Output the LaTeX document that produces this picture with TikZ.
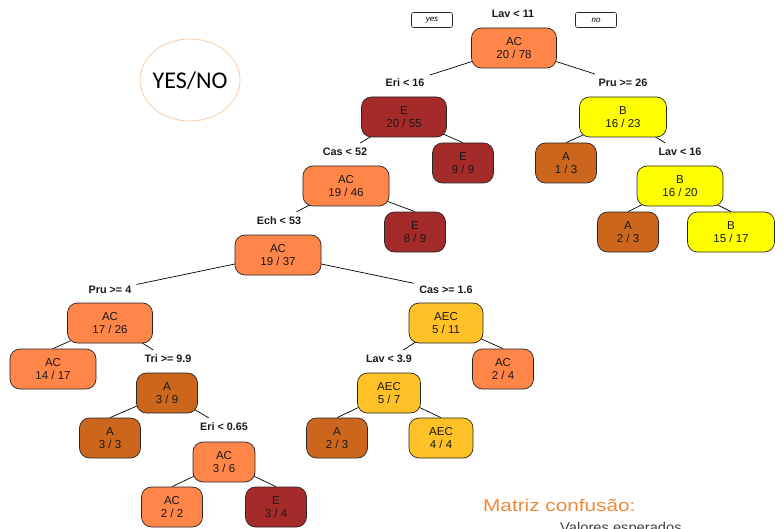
\documentclass[tikz,border=0pt]{standalone}
\usepackage{fontspec}
\usepackage{graphicx}
\setmainfont{Liberation Sans}
\newfontfamily\yesnofont{Carlito}
\usetikzlibrary{backgrounds}
\definecolor{cAC}{HTML}{FF8548}
\definecolor{cE}{HTML}{A52A2A}
\definecolor{cA}{HTML}{CD661D}
\definecolor{cB}{HTML}{FFFF00}
\definecolor{cAEC}{HTML}{FFC125}
\definecolor{peach}{HTML}{F8CBAD}
\definecolor{mtx}{HTML}{F0883A}
\begin{document}
\begin{tikzpicture}[x=1pt,y=-1pt,
  nd/.style={draw=black!85, line width=0.7pt, rounded corners=10pt, minimum height=40pt,
    inner sep=0pt, align=center, text=black!90, font=\fontsize{11.5}{12.5}\selectfont},
  wd/.style={minimum width=#1},
  lab/.style={inner sep=5pt, font=\bfseries\fontsize{10.8}{12}\selectfont, text=black!90},
  yn/.style={draw=black!85, line width=0.6pt, rounded corners=2pt, minimum width=41pt,
    minimum height=15pt, inner sep=0pt, font=\itshape\fontsize{8}{9}\selectfont},
  br/.style={line width=0.7pt, black}]
\useasboundingbox (0,0) rectangle (783,529);

% yes / no
\node[yn] (yes) at (432,20) {yes};
\node[yn] (no) at (596,20) {no};

% YES/NO ellipse
\draw[peach, line width=0.8pt] (190,80) ellipse [x radius=50, y radius=41];
\node[font=\yesnofont\fontsize{24}{28}\selectfont] (yesno) at (190,81) {YES/NO};

% split labels
\node[lab] (l0) at (513,14) {Lav < 11};
\node[lab] (l1) at (405,83) {Eri < 16};
\node[lab] (l2) at (623,83) {Pru >= 26};
\node[lab] (l3) at (680,152) {Lav < 16};
\node[lab] (l4) at (345,152) {Cas < 52};
\node[lab] (l5) at (279,221) {Ech < 53};
\node[lab] (l6) at (110,290) {Pru >= 4};
\node[lab] (l7) at (168,359) {Tri >= 9.9};
\node[lab] (l8) at (446,290) {Cas >= 1.6};
\node[lab] (l9) at (389,359) {Lav < 3.9};
\node[lab] (l10) at (224,427) {Eri < 0.65};

% nodes
\node[nd, wd=85, fill=cAC] (n0) at (514,48) {AC\\20 / 78};
\node[nd, wd=85, fill=cE] (n1) at (404,117) {E\\20 / 55};
\node[nd, wd=61, fill=cE] (n2) at (463,163) {E\\9 / 9};
\node[nd, wd=87, fill=cB] (n3) at (623,117) {B\\16 / 23};
\node[nd, wd=61, fill=cA] (n4) at (566,163) {A\\1 / 3};
\node[nd, wd=86, fill=cB] (n5) at (680,186) {B\\16 / 20};
\node[nd, wd=61, fill=cA] (n6) at (628,232) {A\\2 / 3};
\node[nd, wd=87, fill=cB] (n7) at (731,232) {B\\15 / 17};
\node[nd, wd=86, fill=cAC] (n8) at (346,186) {AC\\19 / 46};
\node[nd, wd=61, fill=cE] (n9) at (415,232) {E\\8 / 9};
\node[nd, wd=86, fill=cAC] (n10) at (278,255) {AC\\19 / 37};
\node[nd, wd=85, fill=cAC] (n11) at (110,323) {AC\\17 / 26};
\node[nd, wd=86, fill=cAC] (n12) at (53,369) {AC\\14 / 17};
\node[nd, wd=61, fill=cA] (n13) at (167,393) {A\\3 / 9};
\node[nd, wd=61, fill=cA] (n14) at (110,438) {A\\3 / 3};
\node[nd, wd=62, fill=cAC] (n15) at (224,462) {AC\\3 / 6};
\node[nd, wd=61, fill=cAC] (n16) at (172,507) {AC\\2 / 2};
\node[nd, wd=61, fill=cE] (n17) at (276,507) {E\\3 / 4};
\node[nd, wd=74, fill=cAEC] (n18) at (446,323) {AEC\\5 / 11};
\node[nd, wd=61, fill=cAC] (n19) at (503,369) {AC\\2 / 4};
\node[nd, wd=63, fill=cAEC] (n20) at (389,393) {AEC\\5 / 7};
\node[nd, wd=61, fill=cA] (n21) at (337,438) {A\\2 / 3};
\node[nd, wd=64, fill=cAEC] (n22) at (441,438) {AEC\\4 / 4};

% branches
\begin{scope}[on background layer]
\draw[br] (n0.center) -- (l1);
\draw[br] (n0.center) -- (l2);
\draw[br] (n1.center) -- (l4);
\draw[br] (n1.center) -- (n2.north);
\draw[br] (n3.center) -- (n4.north);
\draw[br] (n3.center) -- (l3);
\draw[br] (n5.center) -- (n6.north);
\draw[br] (n5.center) -- (n7.north);
\draw[br] (n8.center) -- (l5);
\draw[br] (n8.center) -- (n9.north);
\draw[br] (n10.center) -- (l6);
\draw[br] (n10.center) -- (l8);
\draw[br] (n11.center) -- (n12.north);
\draw[br] (n11.center) -- (l7);
\draw[br] (n13.center) -- (n14.north);
\draw[br] (n13.center) -- (l10);
\draw[br] (n15.center) -- (n16.north);
\draw[br] (n15.center) -- (n17.north);
\draw[br] (n18.center) -- (l9);
\draw[br] (n18.center) -- (n19.north);
\draw[br] (n20.center) -- (n21.north);
\draw[br] (n20.center) -- (n22.north);
\end{scope}

% confusion matrix caption
\node[anchor=base west, inner sep=0pt, text=mtx, font=\fontsize{17}{20}\selectfont] (mtz) at (483,511) {\scalebox{1.22}[1]{Matriz confusão:}};
\node[anchor=base west, inner sep=0pt, text=black!75, font=\fontsize{14}{16}\selectfont] (vesp) at (560,532) {\scalebox{1.05}[1]{Valores esperados}};
\end{tikzpicture}
\end{document}
